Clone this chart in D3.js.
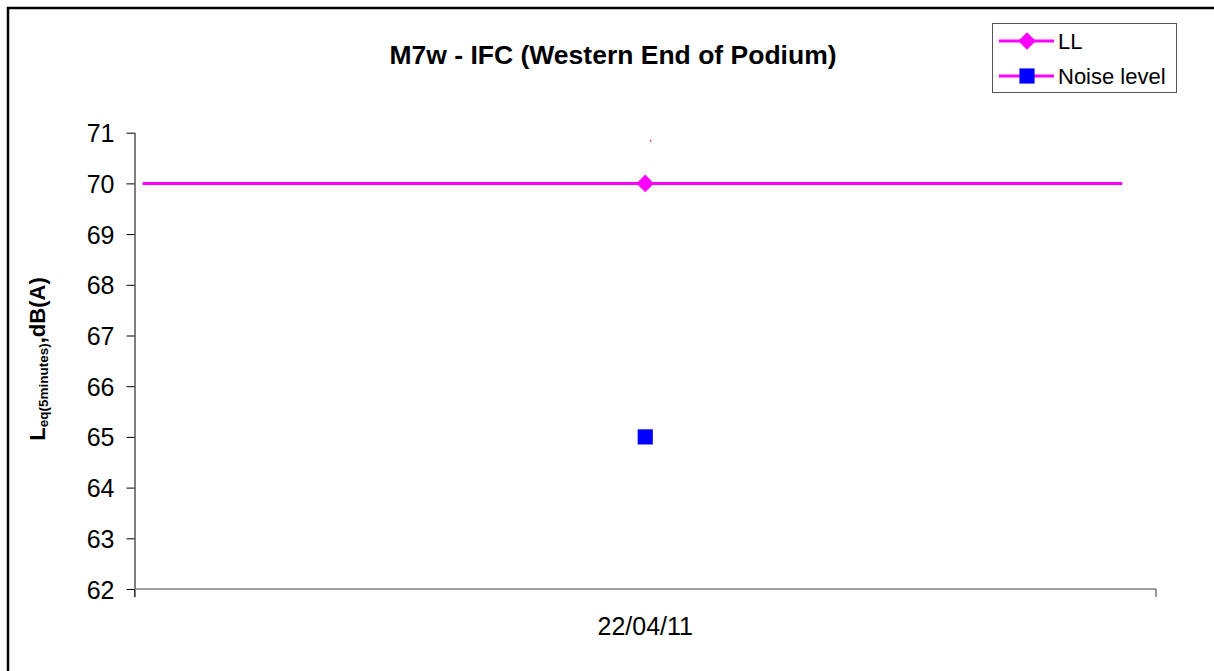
<!DOCTYPE html>
<html>
<head>
<meta charset="utf-8">
<script src="https://cdn.jsdelivr.net/npm/d3@7"></script>
<style>
  body { margin: 0; background: #fff; }
  text { font-family: "Liberation Sans", Arial, sans-serif; }
</style>
</head>
<body>
<div id="chart"></div>
<script>
// data
var dates = ["22/04/11"];
var llValues = [70];
var noiseValues = [65];
var yTicks = [62, 63, 64, 65, 66, 67, 68, 69, 70, 71];
// the LL limit line runs almost across the whole plot (in category units)
var llSpan = [-0.492, 0.467];
var seriesNames = ["LL", "Noise level"];

var W = 1214, H = 671;
var margin = {top: 132.7, right: 58, bottom: 82, left: 134.5};
var width = 1156 - margin.left,
    height = 589 - margin.top;

var svg = d3.select("#chart").append("svg")
    .attr("width", W)
    .attr("height", H);

// outer frame (right and bottom edges fall outside the picture)
svg.append("rect")
    .attr("x", 8).attr("y", 8)
    .attr("width", W + 20).attr("height", H + 20)
    .attr("fill", "none")
    .attr("stroke", "#000")
    .attr("stroke-width", 2.5);

var g = svg.append("g").attr("transform", "translate(" + margin.left + "," + margin.top + ")");

var x = d3.scaleBand().domain(dates).range([0, width]);
var xc = d3.scaleLinear().domain([-0.5, 0.5]).range([0, width]);
var y = d3.scaleLinear().domain([62, 71]).range([height, 0]);

// y axis
var yAxis = d3.axisLeft(y).tickValues(yTicks).tickSize(8).tickPadding(12).tickFormat(d3.format("d"));
var gy = g.append("g").call(yAxis);
gy.select(".domain").attr("stroke", "#000").attr("d", "M0.5,0V" + (height + 8));
gy.selectAll(".tick line").attr("stroke", "#000");
gy.selectAll(".tick text").style("font-size", "25px").attr("fill", "#000").attr("dy", "0.36em");

// x axis
var xAxis = d3.axisBottom(x).tickSize(0).tickPadding(28);
var gx = g.append("g").attr("transform", "translate(0," + height + ")").call(xAxis);
gx.select(".domain").remove();
gx.append("line").attr("x1", 0).attr("x2", width).attr("y1", 0).attr("y2", 0)
    .attr("stroke", "#808080").attr("stroke-width", 1.5);
gx.selectAll(".edge").data([0, width]).enter().append("line")
    .attr("x1", function(d) { return d; }).attr("x2", function(d) { return d; })
    .attr("y1", 0).attr("y2", 8)
    .attr("stroke", "#333");
gx.selectAll(".tick text").style("font-size", "25px").attr("fill", "#000");

// LL limit line
g.append("line")
    .attr("x1", xc(llSpan[0])).attr("x2", xc(llSpan[1]))
    .attr("y1", y(llValues[0])).attr("y2", y(llValues[0]))
    .attr("stroke", "#ff00ff").attr("stroke-width", 3);

// tiny red mark above the point
g.append("line")
    .attr("x1", x(dates[0]) + x.bandwidth() / 2 + 5.5).attr("x2", x(dates[0]) + x.bandwidth() / 2 + 5.5)
    .attr("y1", y(70.86)).attr("y2", y(70.82))
    .attr("stroke", "#ff0000").attr("stroke-width", 1);

var diamond = d3.symbol().type(d3.symbolDiamond2).size(200);
var square = d3.symbol().type(d3.symbolSquare).size(230);

g.selectAll(".ll").data(llValues).enter().append("path")
    .attr("d", diamond)
    .attr("transform", function(d, i) { return "translate(" + (x(dates[i]) + x.bandwidth() / 2) + "," + y(d) + ")"; })
    .attr("fill", "#ff00ff");

g.selectAll(".noise").data(noiseValues).enter().append("path")
    .attr("d", square)
    .attr("transform", function(d, i) { return "translate(" + (x(dates[i]) + x.bandwidth() / 2) + "," + y(d) + ")"; })
    .attr("fill", "#0000ff");

// title
svg.append("text")
    .attr("x", 613).attr("y", 64)
    .attr("text-anchor", "middle")
    .style("font-size", "26.5px").style("font-weight", "bold")
    .text("M7w - IFC (Western End of Podium)");

// y label
var yl = svg.append("text")
    .attr("transform", "translate(45,359) rotate(-90)")
    .attr("text-anchor", "middle")
    .style("font-weight", "bold")
    .style("font-size", "22px");
yl.append("tspan").text("L");
yl.append("tspan").attr("dy", 3).style("font-size", "13.5px").text("eq(5minutes)");
yl.append("tspan").attr("dy", -3).text(",dB(A)");

// legend
var lg = svg.append("g").attr("transform", "translate(992,23)");
lg.append("rect").attr("x", 0.5).attr("y", 0.5).attr("width", 184).attr("height", 69)
    .attr("fill", "#fff").attr("stroke", "#555").attr("stroke-width", 1);
var items = lg.selectAll(".item").data(seriesNames).enter().append("g")
    .attr("transform", function(d, i) { return "translate(0," + (18 + i * 35) + ")"; });
items.append("line").attr("x1", 7).attr("x2", 62).attr("y1", 0).attr("y2", 0)
    .attr("stroke", "#ff00ff").attr("stroke-width", 3);
items.append("path")
    .attr("d", function(d, i) { return i === 0 ? diamond() : square(); })
    .attr("transform", "translate(35,0)")
    .attr("fill", function(d, i) { return i === 0 ? "#ff00ff" : "#0000ff"; });
items.append("text").attr("x", 66).attr("y", 0).attr("dy", "0.36em")
    .style("font-size", "22px").text(function(d) { return d; });
</script>
</body>
</html>
